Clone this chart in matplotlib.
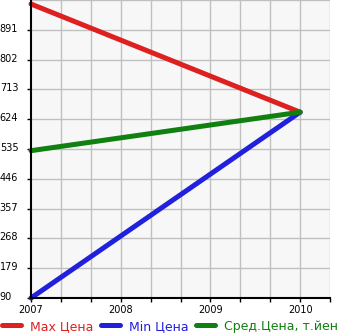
import matplotlib
matplotlib.use("Agg")
import matplotlib.pyplot as plt
import matplotlib.transforms as mtransforms
from matplotlib.lines import Line2D
import numpy as np

years = [2007, 2010]
max_price = [968, 645]
min_price = [90, 645]
avg_price = [530, 645]
y_ticks = [90, 179, 268, 357, 446, 535, 624, 713, 802, 891]
x_ticks = [2007, 2008, 2009, 2010]
labels = ["Max Цена", "Min Цена", "Сред.Цена, т.йен"]
colors = ["#dd2020", "#2020dd", "#108010"]

W, H = 345, 335
fig = plt.figure(figsize=(W / 100, H / 100), dpi=100)
ax = fig.add_axes([31 / W, 37 / H, (330 - 31) / W, 298 / H])
ax.set_facecolor("#f7f7f7")

ax.set_xlim(2007, 2007 + 10 / 3)
ax.set_ylim(90, 980)

# grid
for k in range(1, 11):
    ax.axvline(2007 + k / 3, color="#c0c0c0", lw=1.0, zorder=1)
for v in y_ticks[1:] + [980]:
    ax.axhline(v, color="#c0c0c0", lw=1.0, zorder=1)

for vals, c in zip([max_price, min_price, avg_price], colors):
    ax.plot(years, vals, color=c, lw=3.6, solid_capstyle="round", zorder=3, clip_on=False)

for s in ["top", "right"]:
    ax.spines[s].set_visible(False)
for s in ["left", "bottom"]:
    ax.spines[s].set_linewidth(1.5)
    ax.spines[s].set_color("black")
    ax.spines[s].set_zorder(4)

ax.set_yticks(y_ticks)
ax.set_yticklabels([str(v) for v in y_ticks], fontsize=7)
ax.tick_params(axis="y", length=3, width=1, pad=19.5, direction="out")
off = mtransforms.ScaledTranslation(0, 2 / 100, fig.dpi_scale_trans)
for lab in ax.get_yticklabels():
    lab.set_horizontalalignment("left")
    lab.set_transform(lab.get_transform() + off)

minor = [2007 + k / 3 for k in range(0, 11)]
ax.set_xticks(minor, minor=True)
ax.set_xticks(x_ticks)
ax.set_xticklabels([str(v) for v in x_ticks], fontsize=7)
ax.tick_params(axis="x", which="both", length=3, width=1, pad=2, direction="out")

handles = [Line2D([0], [0], color=c, lw=3.6, solid_capstyle="round") for c in colors]
leg = fig.legend(handles, labels, loc="lower left", bbox_to_anchor=(-0.012, -0.012), ncol=3,
                 frameon=False, fontsize=9, handlelength=1.5, handletextpad=0.75,
                 columnspacing=0.6, borderaxespad=0.1)
for t, c in zip(leg.get_texts(), colors):
    t.set_color(c)

fig.savefig("out.png", dpi=100)
